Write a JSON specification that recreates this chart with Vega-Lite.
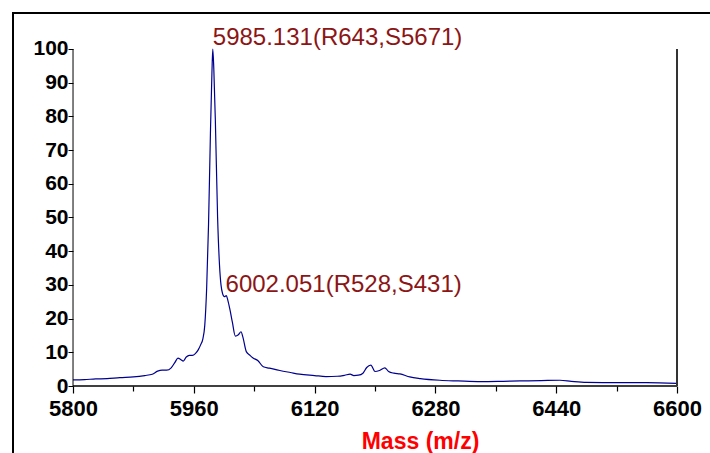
{
  "$schema": "https://vega.github.io/schema/vega-lite/v6.json",
  "width": 697,
  "height": 440,
  "autosize": {"type": "none"},
  "padding": {"left": 13, "top": 13, "right": 0, "bottom": 0},
  "background": "white",
  "config": {
    "view": {"stroke": "#000000", "strokeWidth": 2, "strokeDash": [697, 1137, 440]},
    "font": "Liberation Sans"
  },
  "datasets": {
    "spectrum": [
      {"mass": 5800, "intensity": 1.8}, {"mass": 5815, "intensity": 1.9}, {"mass": 5830, "intensity": 2.1},
      {"mass": 5845, "intensity": 2.2}, {"mass": 5862, "intensity": 2.5}, {"mass": 5880, "intensity": 2.7},
      {"mass": 5895, "intensity": 3.1}, {"mass": 5905, "intensity": 3.5}, {"mass": 5912, "intensity": 4.4},
      {"mass": 5918, "intensity": 4.7}, {"mass": 5924, "intensity": 4.7}, {"mass": 5930, "intensity": 5.4},
      {"mass": 5935, "intensity": 7.0}, {"mass": 5939, "intensity": 8.3}, {"mass": 5943, "intensity": 7.8},
      {"mass": 5946, "intensity": 7.4}, {"mass": 5950, "intensity": 8.6}, {"mass": 5954, "intensity": 9.1},
      {"mass": 5958, "intensity": 9.1}, {"mass": 5962, "intensity": 9.6}, {"mass": 5966, "intensity": 10.8},
      {"mass": 5969, "intensity": 12.2}, {"mass": 5972, "intensity": 14.0}, {"mass": 5974.5, "intensity": 18},
      {"mass": 5977, "intensity": 29}, {"mass": 5979.5, "intensity": 48}, {"mass": 5982, "intensity": 75},
      {"mass": 5984, "intensity": 93}, {"mass": 5985.131, "intensity": 100}, {"mass": 5986.5, "intensity": 94},
      {"mass": 5988.5, "intensity": 79}, {"mass": 5991.5, "intensity": 50}, {"mass": 5994, "intensity": 36},
      {"mass": 5996, "intensity": 30}, {"mass": 5998, "intensity": 27.5}, {"mass": 6000.5, "intensity": 26.5},
      {"mass": 6003, "intensity": 26.8}, {"mass": 6005, "intensity": 25.5}, {"mass": 6008, "intensity": 22.5},
      {"mass": 6011, "intensity": 19}, {"mass": 6015, "intensity": 14.8}, {"mass": 6019, "intensity": 15.2},
      {"mass": 6022.5, "intensity": 16.1}, {"mass": 6025, "intensity": 14.5}, {"mass": 6029.5, "intensity": 10.2},
      {"mass": 6034, "intensity": 9.2}, {"mass": 6038, "intensity": 8.4}, {"mass": 6045, "intensity": 7.5},
      {"mass": 6052, "intensity": 5.7}, {"mass": 6060, "intensity": 5.3}, {"mass": 6074, "intensity": 4.6},
      {"mass": 6088, "intensity": 4.0}, {"mass": 6100, "intensity": 3.5}, {"mass": 6120, "intensity": 3.1},
      {"mass": 6135, "intensity": 2.8}, {"mass": 6150, "intensity": 2.9}, {"mass": 6160, "intensity": 3.2},
      {"mass": 6167, "intensity": 3.5}, {"mass": 6172, "intensity": 3.1}, {"mass": 6178, "intensity": 3.2},
      {"mass": 6184, "intensity": 3.8}, {"mass": 6189, "intensity": 5.5}, {"mass": 6194.5, "intensity": 6.2},
      {"mass": 6200, "intensity": 4.3}, {"mass": 6206, "intensity": 4.6}, {"mass": 6213, "intensity": 5.4},
      {"mass": 6218, "intensity": 4.3}, {"mass": 6225, "intensity": 3.8}, {"mass": 6233, "intensity": 3.6},
      {"mass": 6246, "intensity": 2.7}, {"mass": 6260, "intensity": 2.2}, {"mass": 6286, "intensity": 1.7},
      {"mass": 6310, "intensity": 1.5}, {"mass": 6340, "intensity": 1.3}, {"mass": 6370, "intensity": 1.4},
      {"mass": 6392, "intensity": 1.5}, {"mass": 6420, "intensity": 1.6}, {"mass": 6445, "intensity": 1.7},
      {"mass": 6460, "intensity": 1.4}, {"mass": 6480, "intensity": 1.1}, {"mass": 6524, "intensity": 1.0},
      {"mass": 6560, "intensity": 1.0}, {"mass": 6600, "intensity": 0.8}
    ],
    "peaks": [
      {"mass": 5985.131, "intensity": 100, "label": "5985.131(R643,S5671)"},
      {"mass": 6002.051, "intensity": 26.8, "label": "6002.051(R528,S431)"}
    ]
  },
  "layer": [
    {
      "data": {"name": "spectrum"},
      "mark": {"type": "line", "color": "#000090", "strokeWidth": 1.2, "interpolate": "monotone"},
      "encoding": {
        "x": {
          "field": "mass", "type": "quantitative",
          "scale": {"domain": [5720.5, 6643.7], "nice": false, "zero": false},
          "axis": {
            "orient": "bottom", "offset": -67, "domain": false, "grid": false,
            "values": [5800, 5880, 5960, 6040, 6120, 6200, 6280, 6360, 6440, 6520, 6600],
            "format": "d",
            "labelExpr": "(datum.value - 5800) % 160 === 0 ? datum.label : ''",
            "tickColor": "#000000", "tickWidth": 1.2,
            "tickSize": {"condition": {"test": "(datum.value - 5800) % 160 === 0", "value": 7}, "value": 5},
            "labelPadding": 5, "labelFont": "Liberation Sans", "labelFontSize": 22, "labelFontWeight": "bold",
            "labelColor": "#000000", "labelBound": false, "labelOverlap": false, "labelFlush": false,
            "title": "Mass (m/z)", "titleColor": "#ff0000", "titleFont": "Liberation Sans",
            "titleFontSize": 23, "titleFontWeight": "bold",
            "titleX": 407, "titleY": 62, "titleAlign": "center", "titleBaseline": "alphabetic"
          }
        },
        "y": {
          "field": "intensity", "type": "quantitative",
          "scale": {"domain": [-19.88, 110.68], "nice": false, "zero": false},
          "axis": {
            "orient": "left", "offset": -60, "domain": false, "grid": false,
            "values": [0, 5, 10, 15, 20, 25, 30, 35, 40, 45, 50, 55, 60, 65, 70, 75, 80, 85, 90, 95, 100],
            "format": "d",
            "labelExpr": "datum.value % 10 === 0 ? datum.label : ''",
            "tickColor": "#000000", "tickWidth": 1,
            "tickSize": {"condition": {"test": "datum.value % 10 === 0", "value": 5}, "value": 3},
            "labelPadding": 0, "labelFont": "Liberation Sans", "labelFontSize": 21, "labelFontWeight": "bold",
            "labelColor": "#000000", "labelOverlap": false, "labelFlush": false,
            "title": null
          }
        }
      }
    },
    {
      "data": {"name": "peaks"},
      "mark": {"type": "text", "align": "left", "baseline": "alphabetic", "dy": -4,
               "font": "Liberation Sans", "fontSize": 24, "color": "#8c1515"},
      "encoding": {
        "x": {"field": "mass", "type": "quantitative"},
        "y": {"field": "intensity", "type": "quantitative"},
        "text": {"field": "label"}
      }
    },
    {
      "data": {"values": [{}]},
      "mark": {"type": "rule", "color": "#000000", "strokeWidth": 1},
      "encoding": {
        "x": {"datum": 5800, "type": "quantitative"},
        "y": {"datum": 0, "type": "quantitative"},
        "y2": {"datum": 100}
      }
    },
    {
      "data": {"values": [{}]},
      "mark": {"type": "rule", "color": "#000000", "strokeWidth": 1.5},
      "encoding": {
        "x": {"datum": 5800, "type": "quantitative"},
        "x2": {"datum": 6600},
        "y": {"datum": 0, "type": "quantitative"}
      }
    },
    {
      "data": {"values": [{}]},
      "mark": {"type": "rule", "color": "#333333", "strokeWidth": 2},
      "encoding": {
        "x": {"datum": 6600, "type": "quantitative"},
        "y": {"datum": 0, "type": "quantitative"},
        "y2": {"datum": 100}
      }
    }
  ]
}
